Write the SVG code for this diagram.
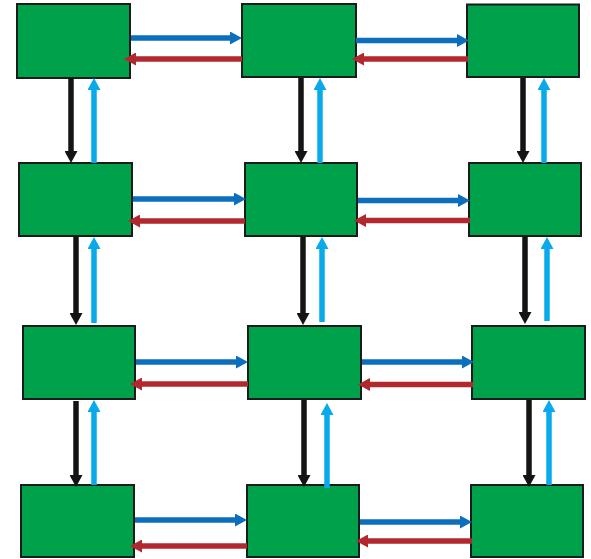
<svg xmlns="http://www.w3.org/2000/svg" width="591" height="559" viewBox="0 0 591 559">
<style>
.box{fill:#00A14B;stroke:#1b1b1b;stroke-width:2}
.c{stroke-width:5.5;fill:none}
.b{stroke:#0B6FBE;marker-end:url(#mb)}
.r{stroke:#B1282F;marker-end:url(#mr)}
.k{stroke:#141414;marker-end:url(#mk)}
.l{stroke:#08AAEC;marker-end:url(#ml)}
</style>
<defs>
<marker id="mb" markerUnits="userSpaceOnUse" markerWidth="14" markerHeight="13" refX="1" refY="6.5" orient="auto"><path d="M0,0 L12,6.5 L0,13 z" fill="#0B6FBE"/></marker>
<marker id="mr" markerUnits="userSpaceOnUse" markerWidth="14" markerHeight="13" refX="1" refY="6.5" orient="auto"><path d="M0,0 L12,6.5 L0,13 z" fill="#B1282F"/></marker>
<marker id="mk" markerUnits="userSpaceOnUse" markerWidth="14" markerHeight="13" refX="1" refY="6.5" orient="auto"><path d="M0,0 L12,6.5 L0,13 z" fill="#141414"/></marker>
<marker id="ml" markerUnits="userSpaceOnUse" markerWidth="14" markerHeight="13" refX="1" refY="6.5" orient="auto"><path d="M0,0 L12,6.5 L0,13 z" fill="#08AAEC"/></marker>
</defs>
<rect width="591" height="559" fill="#ffffff"/>
<g id="n11"><rect class="box" x="17" y="4" width="113" height="74"/></g>
<g id="n12"><rect class="box" x="242" y="4" width="114" height="73"/></g>
<g id="n13"><rect class="box" x="467" y="4.5" width="112" height="72.5"/></g>
<g id="n21"><rect class="box" x="19" y="163" width="113" height="73"/></g>
<g id="n22"><rect class="box" x="245" y="163" width="112" height="73"/></g>
<g id="n23"><rect class="box" x="469" y="163" width="112" height="73"/></g>
<g id="n31"><rect class="box" x="23" y="326" width="112" height="73"/></g>
<g id="n32"><rect class="box" x="248" y="326" width="113" height="73"/></g>
<g id="n33"><rect class="box" x="472" y="326" width="113" height="73"/></g>
<g id="n41"><rect class="box" x="21" y="485" width="113" height="72"/></g>
<g id="n42"><rect class="box" x="247" y="485" width="112" height="72"/></g>
<g id="n43"><rect class="box" x="471" y="485" width="112" height="72"/></g>
<g id="connectors">
<line class="c b" x1="131" y1="38" x2="231" y2="38"/>
<line class="c r" x1="242" y1="59" x2="135" y2="59"/>
<line class="c b" x1="356" y1="40.5" x2="458" y2="40.5"/>
<line class="c r" x1="468" y1="59" x2="363" y2="59"/>
<line class="c b" x1="133" y1="199" x2="235" y2="199"/>
<line class="c r" x1="245" y1="221" x2="139" y2="221"/>
<line class="c b" x1="358" y1="200.5" x2="459" y2="200.5"/>
<line class="c r" x1="470" y1="220.5" x2="365" y2="220.5"/>
<line class="c b" x1="136" y1="362" x2="237" y2="362"/>
<line class="c r" x1="248" y1="384" x2="141" y2="384"/>
<line class="c b" x1="362" y1="362" x2="463" y2="362"/>
<line class="c r" x1="473" y1="384.5" x2="369" y2="384.5"/>
<line class="c b" x1="135" y1="520" x2="236" y2="520"/>
<line class="c r" x1="247" y1="546" x2="141" y2="546"/>
<line class="c b" x1="360" y1="522" x2="461" y2="522"/>
<line class="c r" x1="472" y1="541" x2="367" y2="541"/>
<line class="c k" x1="71" y1="78" x2="71" y2="152"/>
<line class="c l" x1="94" y1="163" x2="94" y2="89"/>
<line class="c k" x1="76" y1="237" x2="76" y2="314"/>
<line class="c l" x1="94" y1="323" x2="94" y2="248"/>
<line class="c k" x1="76" y1="401" x2="76" y2="476"/>
<line class="c l" x1="94" y1="485" x2="94" y2="411"/>
<line class="c k" x1="301" y1="78" x2="301" y2="152"/>
<line class="c l" x1="320" y1="163" x2="320" y2="89"/>
<line class="c k" x1="303" y1="237" x2="303" y2="314"/>
<line class="c l" x1="322" y1="322" x2="322" y2="248"/>
<line class="c k" x1="304" y1="400" x2="304" y2="476"/>
<line class="c l" x1="327" y1="488" x2="327" y2="414"/>
<line class="c k" x1="523" y1="78" x2="523" y2="152"/>
<line class="c l" x1="544" y1="163" x2="544" y2="89"/>
<line class="c k" x1="525" y1="237" x2="525" y2="313"/>
<line class="c l" x1="547" y1="321" x2="547" y2="248"/>
<line class="c k" x1="529" y1="400" x2="529" y2="476"/>
<line class="c l" x1="549" y1="485" x2="549" y2="411"/>
</g>
</svg>
